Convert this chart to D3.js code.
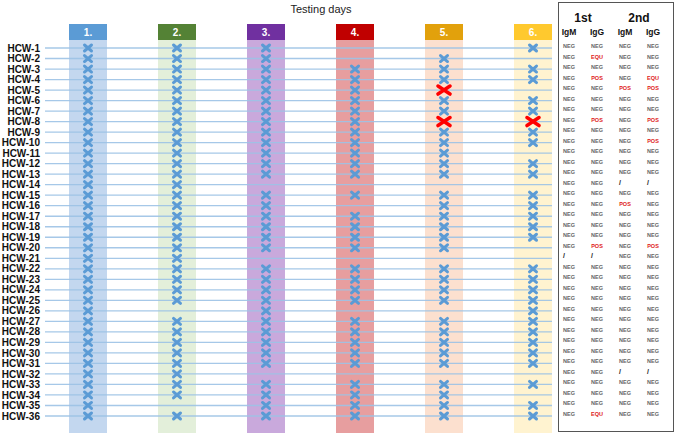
<!DOCTYPE html>
<html>
<head>
<meta charset="utf-8">
<script src="https://cdn.jsdelivr.net/npm/d3@7"></script>
<style>
  body { margin: 0; background: #fff; }
  text { font-family: "Liberation Sans", Arial, sans-serif; }
</style>
</head>
<body>
<script>
// Workers and testing days
var workers = ["HCW-1","HCW-2","HCW-3","HCW-4","HCW-5","HCW-6","HCW-7","HCW-8","HCW-9",
  "HCW-10","HCW-11","HCW-12","HCW-13","HCW-14","HCW-15","HCW-16","HCW-17","HCW-18",
  "HCW-19","HCW-20","HCW-21","HCW-22","HCW-23","HCW-24","HCW-25","HCW-26","HCW-27",
  "HCW-28","HCW-29","HCW-30","HCW-31","HCW-32","HCW-33","HCW-34","HCW-35","HCW-36"];
var days = ["1.", "2.", "3.", "4.", "5.", "6."];
var dayColors = ["#5b9bd5", "#548235", "#7030a0", "#c00000", "#e2a10c", "#ffc92e"];
var bandColors = ["#c3d7ef", "#e3efda", "#c9a9dc", "#e79e9f", "#fce0cf", "#fff3d0"];

// workers without a test on that day
var missing = {
  "1.": [],
  "2.": [26, 35],
  "3.": [14, 21, 32],
  "4.": [1, 2, 14, 16, 21, 26, 32],
  "5.": [1, 14, 21, 26, 32],
  "6.": [2, 5, 11, 14, 20, 21, 32, 34]
};
// positive tests (red cross)
var positive = {
  "5.": [5, 8],
  "6.": [8]
};

// serology table
var tableCols = ["IgM 1st", "IgG 1st", "IgM 2nd", "IgG 2nd"];
var igm1 = ["NEG","NEG","NEG","NEG","NEG","NEG","NEG","NEG","NEG","NEG","NEG","NEG",
  "NEG","NEG","NEG","NEG","NEG","NEG","NEG","NEG","/","NEG","NEG","NEG",
  "NEG","NEG","NEG","NEG","NEG","NEG","NEG","NEG","NEG","NEG","NEG","NEG"];
var igg1 = ["NEG","EQU","NEG","POS","NEG","NEG","NEG","POS","NEG","NEG","NEG","NEG",
  "NEG","NEG","NEG","NEG","NEG","NEG","NEG","POS","/","NEG","NEG","NEG",
  "NEG","NEG","NEG","NEG","NEG","NEG","NEG","NEG","NEG","NEG","NEG","EQU"];
var igm2 = ["NEG","NEG","NEG","NEG","POS","NEG","NEG","NEG","NEG","NEG","NEG","NEG",
  "NEG","/","NEG","POS","NEG","NEG","NEG","NEG","NEG","NEG","NEG","NEG",
  "NEG","NEG","NEG","NEG","NEG","NEG","NEG","/","NEG","NEG","NEG","NEG"];
var igg2 = ["NEG","NEG","NEG","EQU","POS","NEG","NEG","POS","NEG","POS","NEG","NEG",
  "NEG","/","NEG","NEG","NEG","NEG","NEG","POS","NEG","NEG","NEG","NEG",
  "NEG","NEG","NEG","NEG","NEG","NEG","NEG","/","NEG","NEG","NEG","NEG"];

var width = 676, height = 434;

var svg = d3.select("body").append("svg")
    .attr("width", width)
    .attr("height", height);

// scales
var y = d3.scalePoint().domain(workers).range([48, 416]);
var x = d3.scalePoint().domain(days).range([88, 533]);
var bandW = 38;

// title
svg.append("text")
    .attr("x", 321).attr("y", 13)
    .attr("text-anchor", "middle")
    .style("font-size", "11px")
    .style("fill", "#222")
    .text("Testing days");

// day bands
svg.selectAll(".band")
    .data(days)
    .enter().append("rect")
    .attr("x", function (d) { return x(d) - bandW / 2; })
    .attr("y", 40)
    .attr("width", bandW)
    .attr("height", 393)
    .style("fill", function (d, i) { return bandColors[i]; });

// day headers
svg.selectAll(".head")
    .data(days)
    .enter().append("rect")
    .attr("x", function (d) { return x(d) - bandW / 2; })
    .attr("y", 24)
    .attr("width", bandW)
    .attr("height", 16)
    .style("fill", function (d, i) { return dayColors[i]; });

svg.selectAll(".headtext")
    .data(days)
    .enter().append("text")
    .attr("x", function (d) { return x(d); })
    .attr("y", 36)
    .attr("text-anchor", "middle")
    .style("font-size", "10px")
    .style("font-weight", "bold")
    .style("fill", "#fff")
    .text(function (d) { return d; });

// row lines
svg.selectAll(".row")
    .data(workers)
    .enter().append("line")
    .attr("x1", 45).attr("x2", 552)
    .attr("y1", function (d) { return y(d); })
    .attr("y2", function (d) { return y(d); })
    .style("stroke", "#9dc3e6")
    .style("stroke-width", 1.3)
    .style("opacity", 0.9);

// row labels
svg.selectAll(".label")
    .data(workers)
    .enter().append("text")
    .attr("x", 40)
    .attr("y", function (d) { return y(d) + 3.6; })
    .attr("text-anchor", "end")
    .style("font-size", "10px")
    .style("font-weight", "bold")
    .style("fill", "#111")
    .text(function (d) { return d; });

// test marks
var marks = [];
days.forEach(function (day) {
    workers.forEach(function (w, i) {
        var n = i + 1;
        if (missing[day].indexOf(n) < 0) {
            var pos = positive[day] && positive[day].indexOf(n) >= 0;
            marks.push({ day: day, worker: w, pos: pos });
        }
    });
});

function cross(d) {
    var cx = x(d.day), cy = y(d.worker);
    var hw = d.pos ? 6 : 3.5, hh = d.pos ? 4 : 3;
    return "M" + (cx - hw) + "," + (cy - hh) + "L" + (cx + hw) + "," + (cy + hh) +
        "M" + (cx - hw) + "," + (cy + hh) + "L" + (cx + hw) + "," + (cy - hh);
}

svg.selectAll(".mark")
    .data(marks)
    .enter().append("path")
    .attr("d", cross)
    .style("fill", "none")
    .style("stroke", function (d) { return d.pos ? "#ff0000" : "#5b9bd5"; })
    .style("stroke-width", function (d) { return d.pos ? 3.6 : 3; })
    .style("stroke-linecap", "round");

// serology table
var tx = d3.scalePoint().domain(tableCols).range([569, 653]);
var ty = d3.scalePoint().domain(workers).range([46, 414]);

svg.append("rect")
    .attr("x", 558.5).attr("y", 2.5)
    .attr("width", 115).attr("height", 429)
    .style("fill", "none")
    .style("stroke", "#555")
    .style("stroke-width", 1);

svg.append("text")
    .attr("x", (tx("IgM 1st") + tx("IgG 1st")) / 2).attr("y", 22)
    .attr("text-anchor", "middle")
    .style("font-size", "12px").style("font-weight", "bold").style("fill", "#111")
    .text("1st");
svg.append("text")
    .attr("x", (tx("IgM 2nd") + tx("IgG 2nd")) / 2).attr("y", 22)
    .attr("text-anchor", "middle")
    .style("font-size", "12px").style("font-weight", "bold").style("fill", "#111")
    .text("2nd");

svg.selectAll(".colhead")
    .data(tableCols)
    .enter().append("text")
    .attr("x", function (d) { return tx(d); })
    .attr("y", 35)
    .attr("text-anchor", "middle")
    .style("font-size", "8.5px").style("font-weight", "bold").style("fill", "#111")
    .text(function (d) { return d.split(" ")[0]; });

var cells = [];
var cols = [igm1, igg1, igm2, igg2];
cols.forEach(function (arr, c) {
    arr.forEach(function (v, i) {
        cells.push({ col: tableCols[c], worker: workers[i], v: v });
    });
});

svg.selectAll(".cell")
    .data(cells)
    .enter().append("text")
    .attr("x", function (d) { return tx(d.col) - (d.v == "/" ? 5 : 0); })
    .attr("y", function (d) { return ty(d.worker) + 2; })
    .attr("text-anchor", "middle")
    .style("font-size", function (d) { return d.v == "/" ? "7px" : "5.5px"; })
    .style("font-weight", "bold")
    .style("fill", function (d) {
        if (d.v == "POS" || d.v == "EQU") return "#e02020";
        return d.v == "/" ? "#222" : "#666";
    })
    .text(function (d) { return d.v; });
</script>
</body>
</html>
